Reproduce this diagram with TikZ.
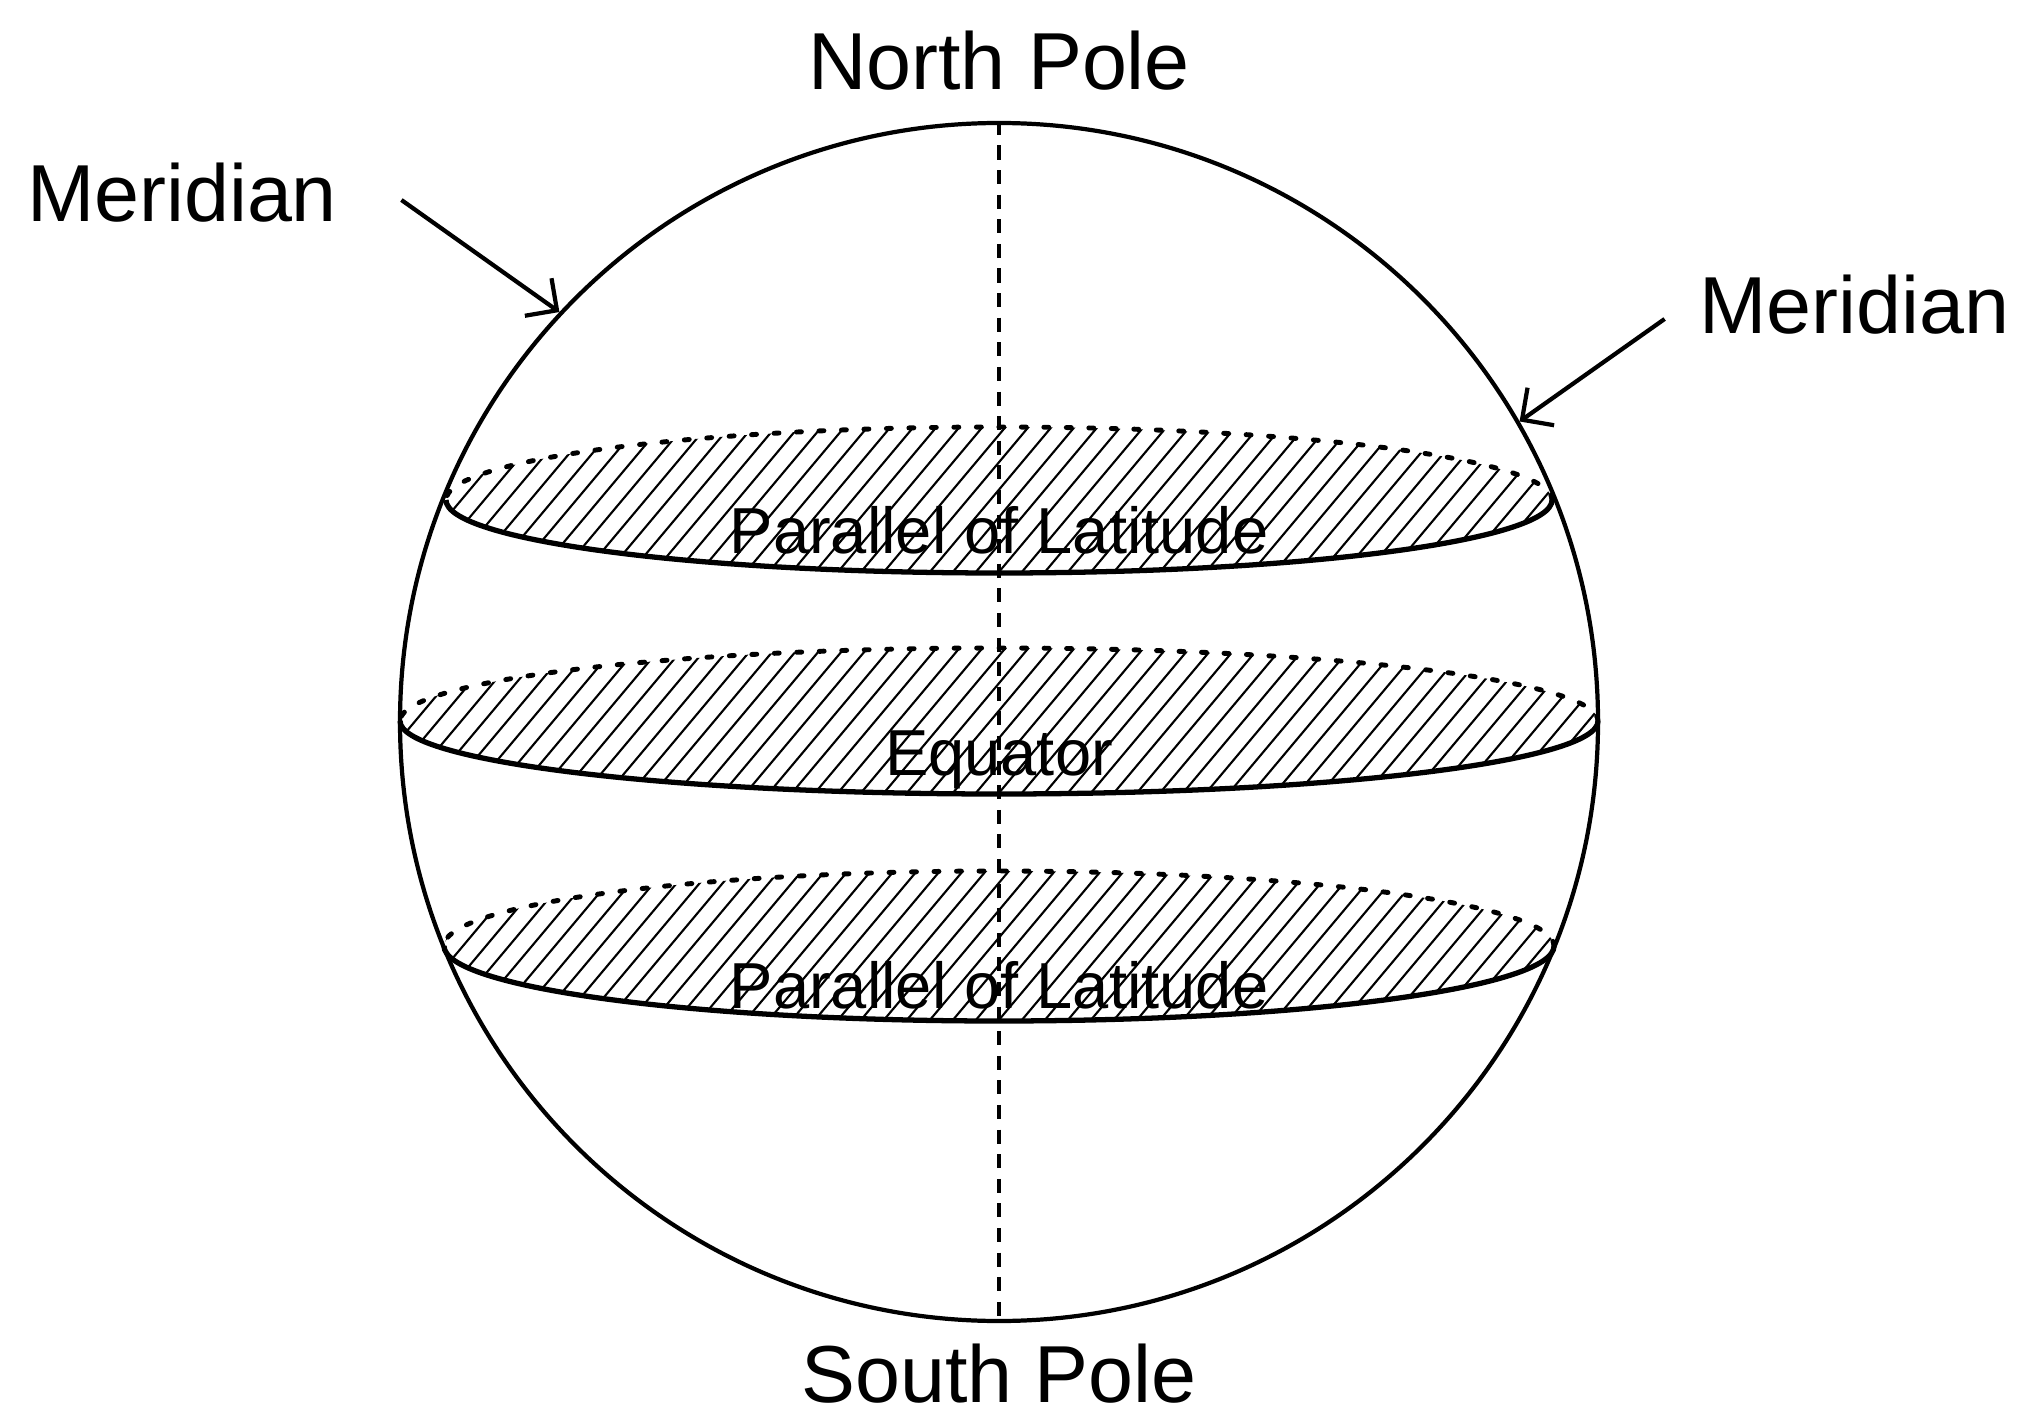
\documentclass[tikz,border=0pt]{standalone}
\usepackage{fontspec}
\setmainfont{Liberation Sans}
\usetikzlibrary{arrows.meta,positioning}

\begin{document}
\begin{tikzpicture}[
      mainlabel/.style={font=\fontsize{23}{27}\selectfont},
      bandlabel/.style={font=\fontsize{18.5}{22}\selectfont},
      pointer/.style={-{Straight Barb[length=2.3mm,width=4.6mm]}, line width=1.2pt},
      hatch/.style={line width=0.6pt},
      backhalf/.style={line width=1.4pt, dash pattern=on 1.4pt off 5pt, line cap=round},
      fronthalf/.style={line width=1.5pt},
      axisline/.style={line width=1pt, dash pattern=on 4pt off 3pt}
    ]
    \useasboundingbox (0,0) rectangle (20.19,14.14);
    \node[draw, circle, minimum size=11.98cm, inner sep=0pt, line width=1.2pt] (globe) at (9.99,6.92) {};
    % latitude bands
    \foreach \y/\rx/\ry in {9.14/5.53/0.73, 6.93/5.99/0.73, 4.68/5.55/0.75} {
      \begin{scope}
        \clip (9.99,\y) ellipse [x radius=\rx, y radius=\ry];
        \foreach \x in {-7.6,-7.37,...,6.2}
          \draw[hatch] (9.99+\x,\y-\ry) -- ++(50:2.2);
      \end{scope}
      \draw[backhalf] (9.99+\rx,\y) arc[start angle=0, end angle=180, x radius=\rx, y radius=\ry];
      \draw[fronthalf] (9.99-\rx,\y) arc[start angle=180, end angle=360, x radius=\rx, y radius=\ry];
    }
    \draw[axisline] (globe.north) -- (globe.south);
    \node[bandlabel] (parnorth) at (9.99,8.84) {Parallel of Latitude};
    \node[bandlabel] (equator) at (9.99,6.54) {Equator};
    \node[bandlabel] (parsouth) at (9.99,4.29) {Parallel of Latitude};
    \node[mainlabel, above=1.8mm of globe] (npole) {North Pole};
    \node[mainlabel, below=0.8mm of globe] (spole) {South Pole};
    \node[mainlabel] (merleft) at (1.82,12.21) {Meridian};
    \node[mainlabel] (merright) at (18.54,11.09) {Meridian};
    \draw[pointer] ([xshift=5.2mm,yshift=-0.7mm]merleft.east) -- (globe.137);
    \draw[pointer] ([xshift=-2.2mm,yshift=-1.4mm]merright.west) -- (globe.30);
  \end{tikzpicture}
\end{document}
